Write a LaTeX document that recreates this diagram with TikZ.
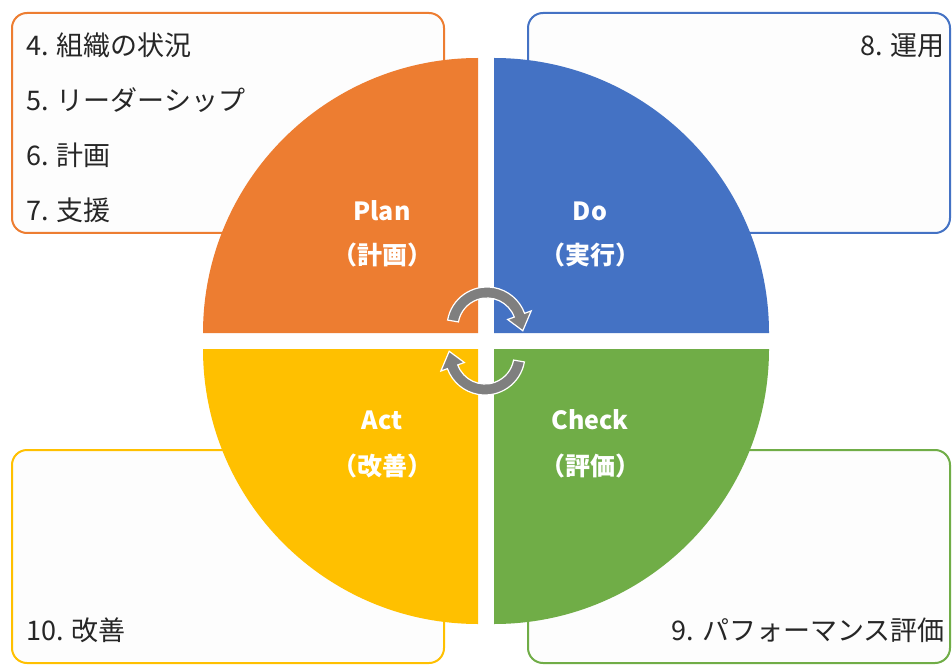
\documentclass[tikz,border=0pt]{standalone}
\usepackage{fontspec}
\setmainfont{Noto Sans CJK JP}
\definecolor{cplan}{HTML}{ED7D31}
\definecolor{cdo}{HTML}{4472C4}
\definecolor{cact}{HTML}{FFC000}
\definecolor{ccheck}{HTML}{70AD47}
\definecolor{boxfill}{HTML}{FDFDFD}
\definecolor{arrowgray}{HTML}{7F7F7F}
\definecolor{itemblack}{HTML}{262626}
\tikzset{
  infobox/.style={rounded corners=15pt, line width=2pt, fill=boxfill},
  itemtext/.style={font=\fontsize{27}{32}\selectfont, text=itemblack, inner sep=0pt},
  phaselabel/.style={font=\bfseries\fontsize{25}{28}\selectfont, text=white, inner sep=0pt, anchor=base},
  cyclearrow/.style={fill=arrowgray, draw=white, line width=1.2pt},
  turnarrow/.pic={
    \path[cyclearrow] (170:40pt) arc[start angle=170,end angle=20,radius=40pt]
      -- (20:47pt) -- (-6:36pt) -- (20:22pt) -- (20:29pt)
      arc[start angle=20,end angle=170,radius=29pt] -- cycle;
  }
}
\begin{document}
\begin{tikzpicture}[x=1pt,y=1pt]
\useasboundingbox (0,0) rectangle (952,665);
\fill[white] (0,0) rectangle (952,665);

% boxes
\draw[infobox, draw=cplan]  (12,652) rectangle (444,432);
\draw[infobox, draw=cdo]    (528,652) rectangle (950,432);
\draw[infobox, draw=cact]   (12,215) rectangle (444,2);
\draw[infobox, draw=ccheck] (528,215) rectangle (950,2);

% quadrants
\fill[cplan]  (478,332) -- (203,332) arc[start angle=180,end angle=90,radius=275pt] -- cycle;
\fill[cdo]    (494,332) -- (494,607) arc[start angle=90,end angle=0,radius=275pt] -- cycle;
\fill[cact]   (478,316) -- (203,316) arc[start angle=180,end angle=270,radius=275pt] -- cycle;
\fill[ccheck] (494,316) -- (769,316) arc[start angle=0,end angle=-90,radius=275pt] -- cycle;

% cycle arrows
\pic at (487,338) {turnarrow};
\pic[rotate=180] at (485,310) {turnarrow};

% phase labels
\node[phaselabel] (plan)  at (382,444) {Plan};
\node[phaselabel] (planj) at (382,400) {（計画）};
\node[phaselabel] (do)    at (590,444) {Do};
\node[phaselabel] (doj)   at (590,400) {（実行）};
\node[phaselabel] (act)   at (382,236) {Act};
\node[phaselabel] (actj)  at (382,190) {（改善）};
\node[phaselabel] (chk)   at (590,236) {Check};
\node[phaselabel] (chkj)  at (590,190) {（評価）};

% clause texts
\node[itemtext, anchor=base west] (c4) at (26,609) {4. 組織の状況};
\node[itemtext, anchor=base west] (c5) at (26,554) {5. リーダーシップ};
\node[itemtext, anchor=base west] (c6) at (26,499) {6. 計画};
\node[itemtext, anchor=base west] (c7) at (26,444) {7. 支援};
\node[itemtext, anchor=base east] (c8) at (945,609) {8. 運用};
\node[itemtext, anchor=base west] (c10) at (26,25) {10. 改善};
\node[itemtext, anchor=base east] (c9) at (945,25) {9. パフォーマンス評価};
\end{tikzpicture}
\end{document}
